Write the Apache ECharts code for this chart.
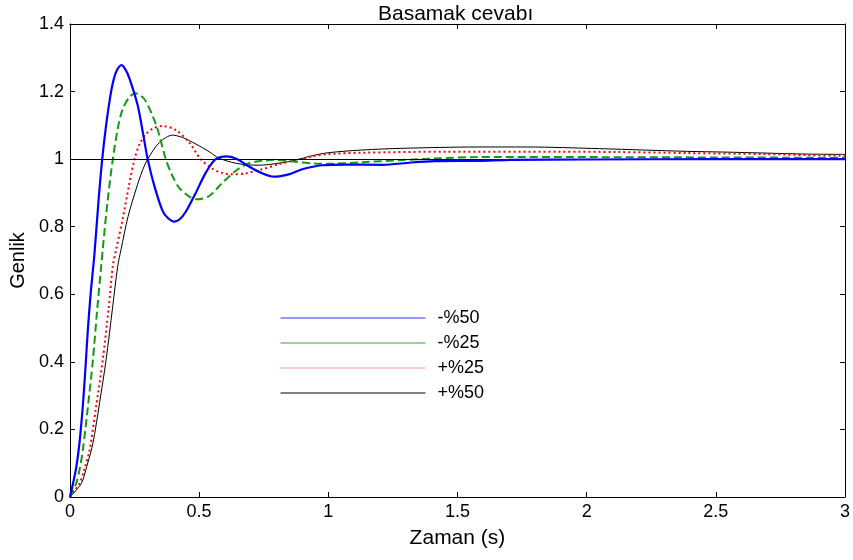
<!DOCTYPE html>
<html>
<head>
<meta charset="utf-8">
<script src="https://cdn.jsdelivr.net/npm/echarts@6/dist/echarts.min.js"></script>
<style>
html,body{margin:0;padding:0;background:#fff;}
#c{width:853px;height:560px;}
</style>
</head>
<body>
<div id="c"></div>
<script>
const titleText = 'Basamak cevabı';
const xName = 'Zaman (s)';
const yName = 'Genlik';
const seriesNames = ['-%50', '-%25', '+%25', '+%50'];
const xTicks = [0, 0.5, 1, 1.5, 2, 2.5, 3];
const yTicks = [0, 0.2, 0.4, 0.6, 0.8, 1, 1.2, 1.4];
const refLevel = 1;

const minus50 = [[0,0],[0.012,0.04],[0.025,0.09],[0.037,0.16],[0.05,0.27],[0.06,0.38],[0.069,0.49],[0.08,0.6],[0.095,0.72],[0.11,0.87],[0.125,1.0],[0.14,1.1],[0.155,1.18],[0.166,1.225],[0.18,1.26],[0.2,1.278],[0.215,1.265],[0.23,1.24],[0.262,1.16],[0.282,1.08],[0.301,1.0],[0.327,0.92],[0.359,0.846],[0.38,0.825],[0.404,0.815],[0.425,0.822],[0.449,0.845],[0.487,0.9],[0.526,0.96],[0.564,1.0],[0.609,1.008],[0.648,1.0],[0.693,0.978],[0.744,0.958],[0.789,0.948],[0.847,0.955],[0.899,0.97],[0.976,0.982],[1.066,0.984],[1.21,0.983],[1.32,0.99],[1.41,0.994],[1.58,0.995],[1.71,0.998],[2.0,0.999],[2.5,1.0],[3,1.0]];
const minus25 = [[0,0],[0.024,0.04],[0.037,0.08],[0.05,0.139],[0.07,0.27],[0.089,0.406],[0.105,0.55],[0.121,0.683],[0.127,0.733],[0.145,0.87],[0.166,1.0],[0.185,1.09],[0.204,1.148],[0.23,1.183],[0.253,1.195],[0.288,1.178],[0.32,1.128],[0.339,1.089],[0.371,1.0],[0.397,0.95],[0.423,0.915],[0.462,0.889],[0.494,0.881],[0.539,0.891],[0.59,0.93],[0.641,0.965],[0.693,0.988],[0.744,0.995],[0.796,0.998],[0.873,0.992],[0.95,0.987],[1.0,0.986],[1.13,0.991],[1.41,1.002],[1.59,1.006],[2.0,1.006],[2.5,1.005],[3,1.004]];
const plus25 = [[0,0],[0.037,0.04],[0.055,0.08],[0.076,0.139],[0.1,0.26],[0.127,0.406],[0.15,0.56],[0.166,0.683],[0.179,0.733],[0.204,0.822],[0.228,0.92],[0.25,1.0],[0.27,1.045],[0.294,1.074],[0.325,1.092],[0.359,1.098],[0.41,1.086],[0.462,1.049],[0.506,1.0],[0.551,0.972],[0.585,0.96],[0.622,0.955],[0.68,0.958],[0.744,0.97],[0.809,0.985],[0.873,0.997],[0.937,1.008],[1.0,1.015],[1.13,1.019],[1.46,1.022],[1.9,1.022],[2.12,1.021],[2.39,1.018],[2.69,1.015],[2.85,1.012],[3,1.01]];
const plus50 = [[0,0],[0.044,0.04],[0.065,0.09],[0.089,0.159],[0.115,0.28],[0.14,0.406],[0.165,0.56],[0.185,0.683],[0.198,0.733],[0.225,0.83],[0.256,0.911],[0.28,0.965],[0.301,1.0],[0.346,1.049],[0.397,1.071],[0.436,1.064],[0.487,1.045],[0.539,1.022],[0.577,1.003],[0.641,0.988],[0.69,0.983],[0.731,0.982],[0.809,0.988],[0.873,0.997],[0.937,1.01],[1.0,1.019],[1.13,1.027],[1.284,1.032],[1.58,1.036],[1.77,1.036],[2.05,1.031],[2.22,1.027],[2.39,1.023],[2.53,1.021],[2.69,1.018],[2.85,1.015],[3,1.014]];

const colors = ['#0000ff', '#139b13', '#ff0000', '#000000'];
const legendColors = ['#3333ff', '#33aa33', '#ff9a9a', '#000000'];
const FONT = 'Liberation Sans, Arial, sans-serif';

const chart = echarts.init(document.getElementById('c'), null, {renderer: 'canvas'});

function axisCommon(showLabels) {
  return {
    axisLine: {show: true, onZero: false, lineStyle: {color: '#000', width: 1}},
    axisTick: {show: true, inside: true, length: 5, lineStyle: {color: '#000'}},
    axisLabel: {show: showLabels, color: '#000', fontFamily: FONT, fontSize: 18, margin: 6},
    splitLine: {show: false}
  };
}

const option = {
  animation: false,
  backgroundColor: '#fff',
  title: {
    text: titleText,
    left: 373, top: -1,
    textStyle: {fontFamily: FONT, fontSize: 21, fontWeight: 'normal', color: '#000'}
  },
  grid: {left: 67, right: 7, top: 24, bottom: 63, containLabel: false},
  legend: {
    orient: 'vertical',
    left: 275, top: 304,
    itemWidth: 145, itemHeight: 14, itemGap: 7,
    itemStyle: {opacity: 0},
    lineStyle: {width: 1, type: 'solid'},
    textStyle: {fontFamily: FONT, fontSize: 18, color: '#000', padding: [0, 0, 0, 7]},
    selectedMode: false,
    data: seriesNames.map((n, i) => ({name: n, itemStyle: {opacity: 0}, lineStyle: {color: legendColors[i], width: 1, type: 'solid'}}))
  },
  xAxis: [
    Object.assign({
      type: 'value', min: xTicks[0], max: xTicks[xTicks.length - 1], interval: 0.5,
      name: xName, nameLocation: 'middle', nameGap: 31,
      nameTextStyle: {fontFamily: FONT, fontSize: 21, color: '#000'},
      position: 'bottom'
    }, axisCommon(true)),
    Object.assign({
      type: 'value', min: xTicks[0], max: xTicks[xTicks.length - 1], interval: 0.5,
      position: 'top', gridIndex: 0
    }, axisCommon(false))
  ],
  yAxis: [
    Object.assign({
      type: 'value', min: yTicks[0], max: yTicks[yTicks.length - 1], interval: 0.2,
      name: yName, nameLocation: 'middle', nameGap: 41,
      nameTextStyle: {fontFamily: FONT, fontSize: 20, color: '#000'},
      position: 'left'
    }, axisCommon(true)),
    Object.assign({
      type: 'value', min: yTicks[0], max: yTicks[yTicks.length - 1], interval: 0.2,
      position: 'right'
    }, axisCommon(false))
  ],
  series: [
    {name: seriesNames[0], type: 'line', data: minus50, smooth: 0.3, symbol: 'none', z: 5,
     lineStyle: {color: colors[0], width: 2.2, type: 'solid'}, itemStyle: {color: colors[0]},
     markLine: {silent: true, symbol: 'none', label: {show: false}, animation: false,
       lineStyle: {color: '#000', width: 1, type: 'solid'}, data: [{yAxis: refLevel}]}},
    {name: seriesNames[1], type: 'line', data: minus25, smooth: 0.3, symbol: 'none', z: 4,
     lineStyle: {color: colors[1], width: 2, type: [8, 4]}, itemStyle: {color: colors[1]}},
    {name: seriesNames[2], type: 'line', data: plus25, smooth: 0.3, symbol: 'none', z: 3,
     lineStyle: {color: colors[2], width: 2, type: [2, 3]}, itemStyle: {color: colors[2]}},
    {name: seriesNames[3], type: 'line', data: plus50, smooth: 0.3, symbol: 'none', z: 2,
     lineStyle: {color: colors[3], width: 1, type: 'solid'}, itemStyle: {color: colors[3]}}
  ]
};
chart.setOption(option);
</script>
</body>
</html>
